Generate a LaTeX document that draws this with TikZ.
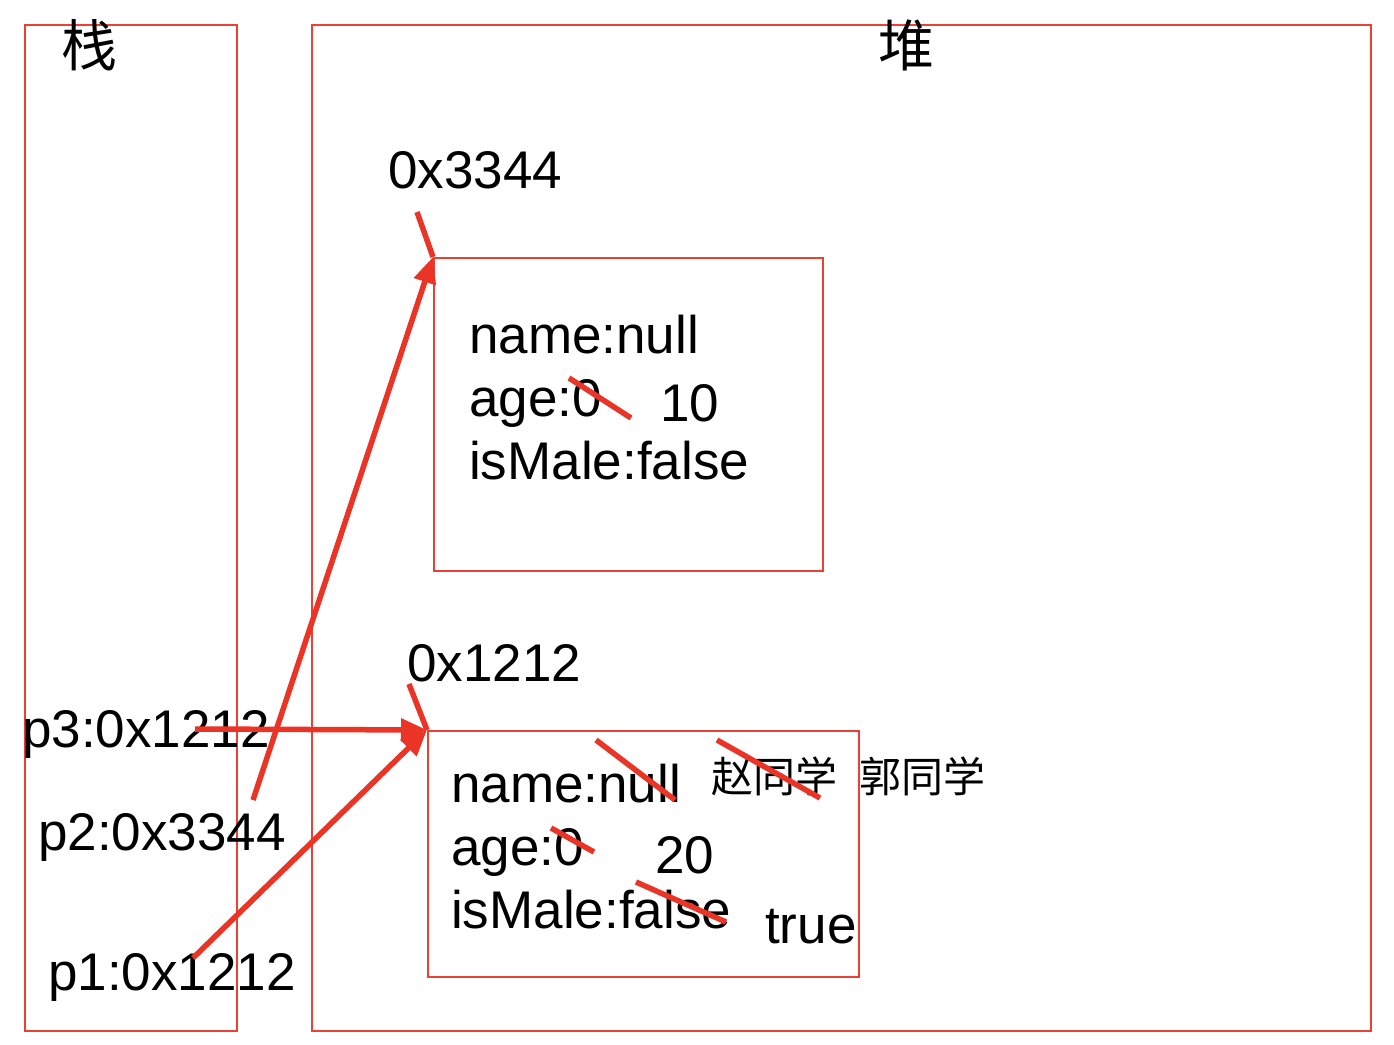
\documentclass[tikz,border=0pt]{standalone}
\usepackage{fontspec}
\setmainfont{Liberation Sans}
\newfontfamily\cjk{Noto Sans CJK SC}
\usetikzlibrary{arrows.meta}
\definecolor{boxred}{RGB}{236,64,52}
\definecolor{arrred}{RGB}{234,52,38}
\tikzset{
  frame/.style={draw=boxred, line width=1.8pt, rectangle, inner sep=0pt, anchor=north west, fill=white},
  lbl/.style={inner sep=0pt, anchor=base west, font=\fontsize{53}{63}\selectfont},
  cjklbl/.style={inner sep=0pt, anchor=center, font=\cjk\fontsize{56}{60}\selectfont},
  cjksmall/.style={inner sep=0pt, anchor=center, font=\cjk\fontsize{42}{46}\selectfont},
  ptr/.style={draw=arrred, line width=5.5pt, -{Triangle[length=26pt,width=22pt]}},
  redline/.style={draw=arrred, line width=5.5pt},
}
\begin{document}
\begin{tikzpicture}[x=1pt,y=-1pt]
\useasboundingbox (0,0) rectangle (1394,1044);
\fill[white] (0,0) rectangle (1394,1044);
% frames
\node[frame, minimum width=212pt, minimum height=1006pt] (stack) at (24,24) {};
\node[frame, minimum width=1059pt, minimum height=1006pt] (heap) at (311,24) {};
\node[frame, minimum width=389pt, minimum height=313pt] (obja) at (433,257) {};
\node[frame, minimum width=431pt, minimum height=246pt] (objb) at (427,730) {};
% titles
\node[cjklbl] (tstack) at (89,45) {栈};
\node[cjklbl] (theap) at (906,45) {堆};
% addresses
\node[lbl] (adra) at (388,188) {0x3344};
\node[lbl] (adrb) at (407,681) {0x1212};
% object a
\node[lbl] (a1) at (469,353) {name:null};
\node[lbl] (a2) at (469,416) {age:0};
\node[lbl] (a3) at (469,479) {isMale:false};
\node[lbl] (a4) at (660,421) {10};
% object b
\node[lbl] (b1) at (451,802) {name:null};
\node[lbl] (b2) at (451,865) {age:0};
\node[lbl] (b3) at (451,928) {isMale:false};
\node[lbl] (b4) at (655,873) {20};
\node[lbl] (b5) at (765,943) {true};
\node[cjksmall] (b6) at (774,776) {赵同学};
\node[cjksmall] (b7) at (922,776) {郭同学};
% stack vars
\node[lbl] (p3) at (22,747) {p3:0x1212};
\node[lbl] (p2) at (38,850) {p2:0x3344};
\node[lbl] (p1) at (48,990) {p1:0x1212};
% connector ends
\coordinate (p3s) at (195,729);
\coordinate (p2s) at (253,800);
\coordinate (p1s) at (193,958);
\coordinate (adras) at (417,212);
\coordinate (adrbs) at (409,684);
% pointers
\draw[ptr] (p3s) -- (objb.north west);
\draw[ptr] (p1s) -- (objb.north west);
\draw[ptr] (p2s) -- (obja.north west);
\draw[redline] (adras) -- (obja.north west);
\draw[redline] (adrbs) -- (objb.north west);
% strike-throughs
\draw[redline] (569,378) -- (631,418);
\draw[redline] (596,740) -- (675,800);
\draw[redline] (717,740) -- (820,798);
\draw[redline] (551,828) -- (594,852);
\draw[redline] (636,882) -- (726,922);
\end{tikzpicture}
\end{document}
